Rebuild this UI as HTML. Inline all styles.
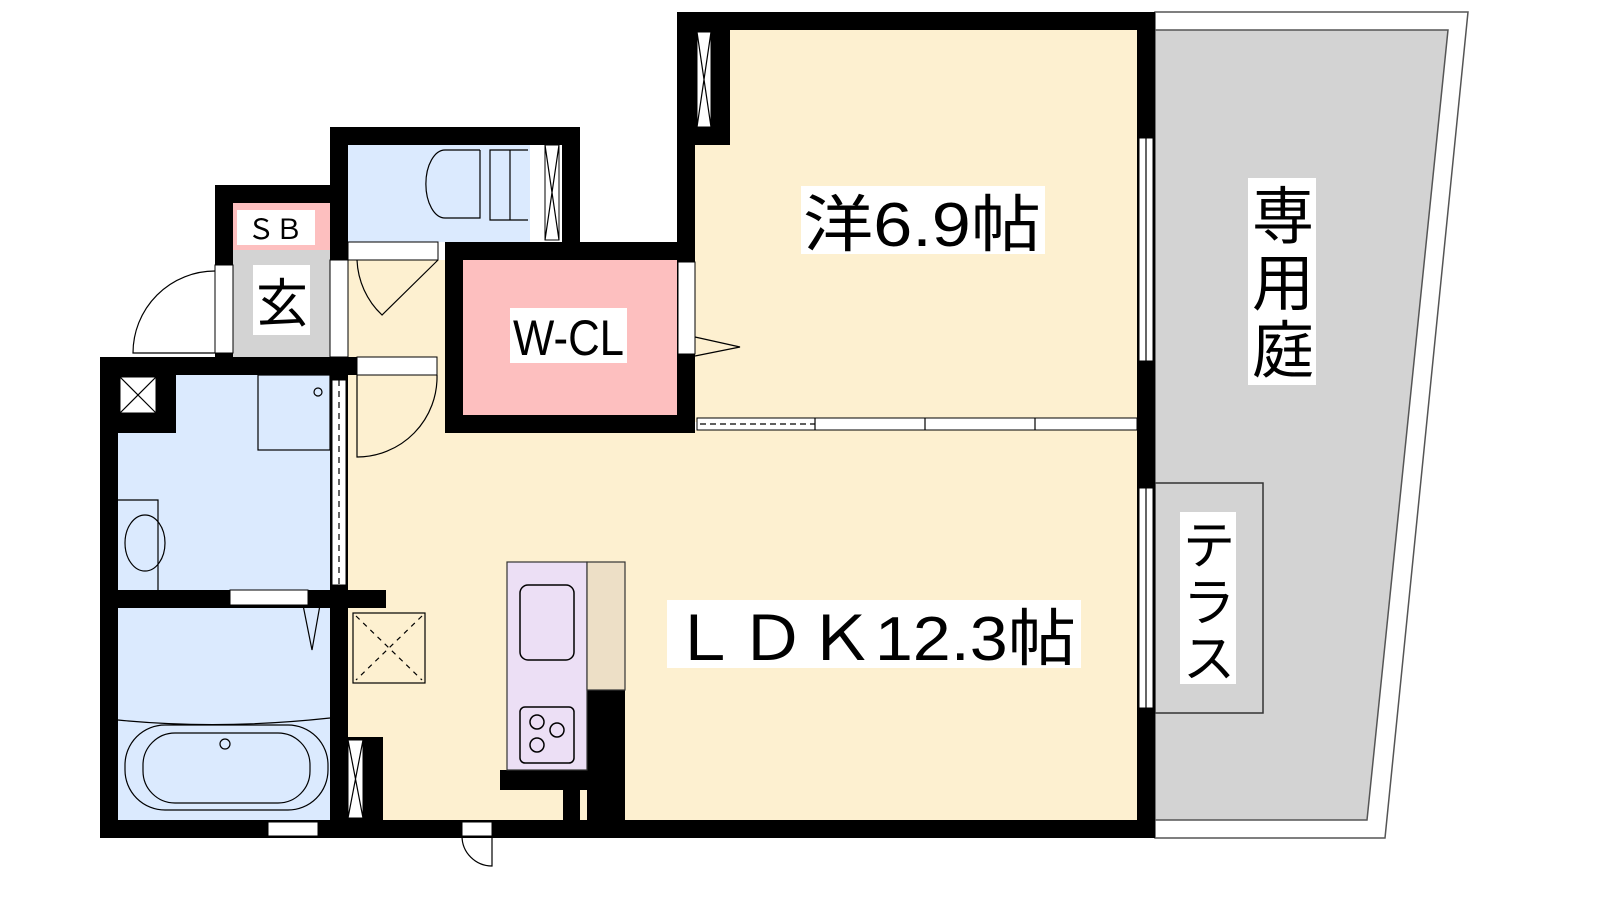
<!DOCTYPE html>
<html><head><meta charset="utf-8"><style>
html,body{margin:0;padding:0;background:#fff;width:1600px;height:900px;overflow:hidden}
svg{display:block}
text{font-family:"Liberation Sans","Noto Sans CJK JP",sans-serif;fill:#000}
</style></head><body>
<svg width="1600" height="900" viewBox="0 0 1600 900" xmlns="http://www.w3.org/2000/svg">
<!-- garden -->
<polygon points="1155,12 1468,12 1385,838 1155,838" fill="#fff" stroke="#555" stroke-width="1.5"/>
<polygon points="1155,30 1448,30 1367,820 1155,820" fill="#d3d3d3" stroke="#555" stroke-width="1.5"/>
<rect x="1155" y="483" width="108" height="230" fill="#d3d3d3" stroke="#333" stroke-width="1.5"/>

<!-- floors -->
<rect x="348" y="260" width="100" height="180" fill="#fdf0d0"/>
<rect x="348" y="430" width="792" height="392" fill="#fdf0d0"/>
<rect x="695" y="30" width="445" height="392" fill="#fdf0d0"/>
<rect x="463" y="260" width="214" height="155" fill="#fdbfbf"/>
<rect x="348" y="145" width="182" height="97" fill="#dbeafe"/>
<rect x="233" y="203" width="97" height="47" fill="#fdbfbf"/>
<rect x="233" y="250" width="97" height="107" fill="#d3d3d3"/>
<rect x="118" y="375" width="215" height="215" fill="#dbeafe"/>
<rect x="118" y="605" width="215" height="215" fill="#dbeafe"/>

<!-- walls -->
<g fill="#000">
<rect x="677" y="12" width="478" height="18"/>
<rect x="1137" y="12" width="18" height="826"/>
<rect x="677" y="12" width="18" height="420"/>
<rect x="677" y="12" width="53" height="133"/>
<rect x="100" y="820" width="1055" height="18"/>
<rect x="100" y="357" width="18" height="481"/>
<rect x="100" y="357" width="258" height="18"/>
<rect x="118" y="375" width="58" height="58"/>
<rect x="330" y="127" width="250" height="18"/>
<rect x="330" y="127" width="18" height="133"/>
<rect x="562" y="127" width="18" height="133"/>
<rect x="445" y="242" width="250" height="18"/>
<rect x="445" y="242" width="18" height="190"/>
<rect x="445" y="415" width="250" height="18"/>
<rect x="215" y="185" width="133" height="18"/>
<rect x="215" y="185" width="18" height="172"/>
<rect x="330" y="357" width="18" height="463"/>
<rect x="118" y="590" width="268" height="18"/>
<rect x="348" y="737" width="35" height="85"/>
<rect x="500" y="770" width="110" height="20"/>
<rect x="563" y="790" width="17" height="32"/>
<rect x="587" y="690" width="38" height="130"/>
</g>
<!-- windows / openings -->
<g fill="#fff" stroke="#000" stroke-width="1">
<rect x="697" y="32" width="14" height="95"/>
<rect x="545" y="145" width="14" height="95"/>
<rect x="120" y="377" width="36" height="36"/>
<rect x="348" y="740" width="15" height="78"/>
<rect x="1139" y="138" width="14" height="223"/>
<rect x="1139" y="488" width="14" height="220"/>
<rect x="678" y="262" width="17" height="92"/>
<rect x="330" y="260" width="18" height="97"/>
<rect x="215" y="265" width="18" height="88"/>
<rect x="348" y="242" width="90" height="18"/>
<rect x="357" y="357" width="80" height="18"/>
<rect x="230" y="590" width="78" height="15"/>
<rect x="332" y="380" width="14" height="205"/>
<rect x="697" y="418" width="440" height="12"/>
<rect x="268" y="822" width="50" height="14"/>
<rect x="462" y="822" width="30" height="14"/>
</g>
<g stroke="#000" stroke-width="1.2" fill="none">
<path d="M697,32 L711,127 M711,32 L697,127"/>
<path d="M545,145 L559,240 M559,145 L545,240"/>
<path d="M120,377 L156,413 M156,377 L120,413"/>
<path d="M348,740 L363,818 M363,740 L348,818"/>
<path d="M1146,138 V361 M1146,488 V708"/>
<path d="M339,380 V585" stroke-dasharray="6,5"/>
<path d="M700,424 H815" stroke-dasharray="6,4"/>
<path d="M815,418 V430 M925,418 V430 M1035,418 V430"/>
<!-- doors -->
<path d="M215,353 H133 A82,82 0 0 1 215,271"/>
<path d="M357,260 A80,80 0 0 0 382,315 L438,260"/>
<path d="M357,375 V457 A80,80 0 0 0 437,375"/>
<path d="M695,337 L740,347 L695,356"/>
<path d="M303,605 L312,650 L320,605"/>
<path d="M462,836 A30,30 0 0 0 492,866 V836"/>
<!-- toilet -->
<path d="M528,150 H490 V220 H528 M510,150 V220 M480,150 H445 A18,32 0 0 0 445,218 H480 V150"/>
<!-- washroom -->
<rect x="258" y="375" width="72" height="75"/>
<path d="M118,500 H158 V590"/>
<ellipse cx="145" cy="543" rx="20" ry="28"/>
<circle cx="318" cy="392" r="4"/>
<!-- bath -->
<path d="M118,720 Q220,730 330,718"/>
<rect x="125" y="725" width="203" height="85" rx="40"/>
<rect x="143" y="733" width="167" height="70" rx="32"/>
<circle cx="225" cy="744" r="5"/>
<!-- fridge space -->
<rect x="353" y="613" width="72" height="70" fill="#fdf0d0"/>
<path d="M356,616 L422,680 M422,616 L356,680" stroke-dasharray="5,5"/>
</g>
<!-- kitchen -->
<rect x="507" y="562" width="80" height="208" fill="#ecdff5" stroke="#333" stroke-width="1.2"/>
<rect x="587" y="562" width="38" height="128" fill="#eddfc6" stroke="#333" stroke-width="1.2"/>
<g fill="none" stroke="#000" stroke-width="1.5">
<rect x="520" y="585" width="54" height="75" rx="8"/>
<rect x="520" y="707" width="54" height="56" rx="5"/>
<circle cx="537" cy="722" r="7"/><circle cx="557" cy="730" r="7"/><circle cx="537" cy="745" r="7"/>
</g>
<!-- labels -->
<rect x="801" y="186" width="244" height="68" fill="#fff"/>
<text x="803" y="246" font-size="62" textLength="238" lengthAdjust="spacingAndGlyphs">洋6.9帖</text>
<rect x="667" y="600" width="414" height="68" fill="#fff"/>
<text x="670" y="660" font-size="62" textLength="406" lengthAdjust="spacingAndGlyphs">ＬＤＫ12.3帖</text>
<rect x="510" y="308" width="117" height="55" fill="#fff"/>
<text x="513" y="355" font-size="50" textLength="111" lengthAdjust="spacingAndGlyphs">W-CL</text>
<rect x="253" y="265" width="57" height="70" fill="#fff"/>
<text x="256" y="322" font-size="52">玄</text>
<rect x="237" y="210" width="78" height="35" fill="#fff"/>
<text x="247" y="239" font-size="28">ＳＢ</text>
<rect x="1248" y="178" width="68" height="207" fill="#fff"/>
<text x="1252" y="238" font-size="62">専</text>
<text x="1252" y="305" font-size="62">用</text>
<text x="1252" y="372" font-size="62">庭</text>
<rect x="1180" y="512" width="56" height="172" fill="#fff"/>
<text x="1183" y="564" font-size="52">テ</text>
<text x="1183" y="621" font-size="52">ラ</text>
<text x="1183" y="677" font-size="52">ス</text>
</svg>
</body></html>
